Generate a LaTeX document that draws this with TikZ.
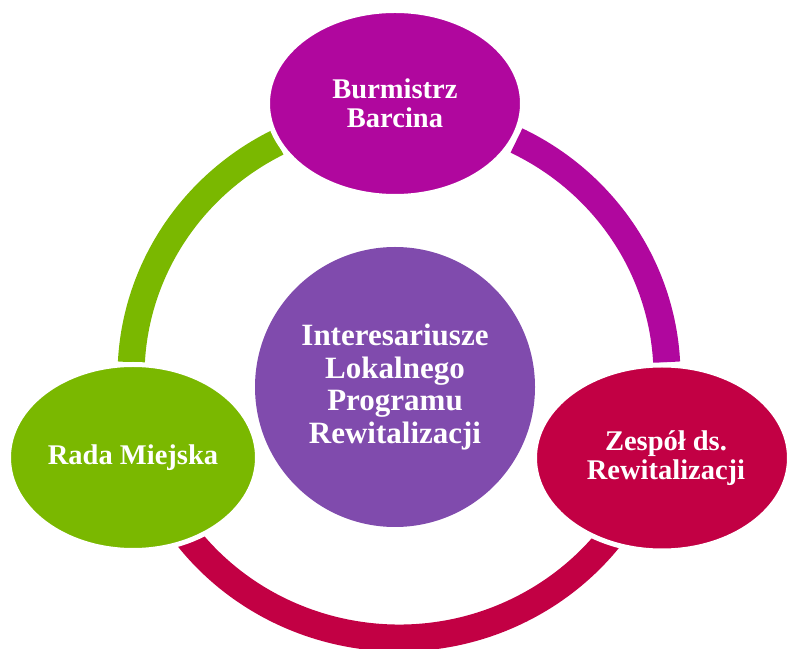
\documentclass[tikz,border=0pt]{standalone}
\usepackage{fontspec}
\setmainfont{Liberation Serif}
\usetikzlibrary{shapes.geometric,calc}
\definecolor{cMag}{RGB}{176,7,158}
\definecolor{cViolet}{RGB}{128,75,173}
\definecolor{cGreen}{RGB}{122,184,0}
\definecolor{cRed}{RGB}{194,0,68}
\begin{document}
\begin{tikzpicture}[x=1pt,y=1pt,
  bubble/.style={ellipse, draw=white, line width=5pt, inner sep=0pt},
  lbl/.style={text=white, font=\bfseries\fontsize{28.5}{29.5}\selectfont, align=center, inner sep=0pt},
  ringarc/.style={line width=27pt}]
\useasboundingbox (0,0) rectangle (787,648);
\coordinate (ring) at (399,272);
\draw[ringarc, cGreen] ($(ring)+(117:268 and 262)$) arc[start angle=117, end angle=177, x radius=268, y radius=262];
\draw[ringarc, cMag] ($(ring)+(3:268 and 262)$) arc[start angle=3, end angle=64, x radius=268, y radius=262];
\draw[ringarc, cRed] ($(ring)+(210:268 and 262)$) arc[start angle=210, end angle=330, x radius=268, y radius=262];
\node[bubble, fill=cMag, minimum width=255pt, minimum height=186pt] (burm) at (395,544.5) {};
\node[bubble, fill=cGreen, minimum width=249pt, minimum height=186pt] (rada) at (133,190.5) {};
\node[bubble, fill=cRed, minimum width=255pt, minimum height=186pt] (zesp) at (662,190) {};
\node[circle, fill=cViolet, minimum size=280pt, inner sep=0pt] (core) at (395,261) {};
\node[lbl] (burmtxt) at (burm.center) {Burmistrz\\Barcina};
\node[lbl] (radatxt) at (rada.center) {Rada Miejska};
\node[lbl] (zesptxt) at ($(zesp.center)+(4,0)$) {Zespół ds.\\Rewitalizacji};
\node[lbl, font=\bfseries\fontsize{31}{32.5}\selectfont] (coretxt) at (core.center) {Interesariusze\\Lokalnego\\Programu\\Rewitalizacji};
\end{tikzpicture}
\end{document}
